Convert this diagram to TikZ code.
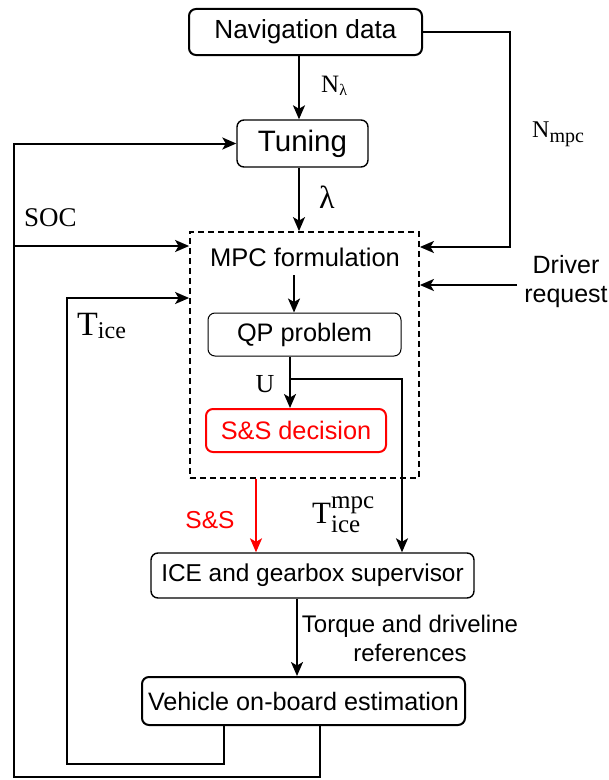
\documentclass[tikz,border=0pt]{standalone}
\usepackage{fontspec}
\setmainfont{Liberation Sans}
\newfontfamily\serif{Liberation Serif}
\usetikzlibrary{arrows.meta}
\newcommand\fsz[1]{\fontsize{#1bp}{#1bp}\selectfont}
\begin{document}
\begin{tikzpicture}[x=1bp,y=-1bp,
  box/.style={draw, rounded corners=7bp, line width=1.4bp, inner sep=0pt, font=\fsz{25.3}},
  arr/.style={-{Stealth[length=14bp,width=12bp,inset=3.5bp]}, line width=2bp},
  lab/.style={font=\serif\fsz{25}, inner sep=0pt}]
\useasboundingbox (0,0) rectangle (609,780);
% nodes
\node[box, line width=2bp, minimum width=233bp, minimum height=46bp, font=\fsz{26.2}] (nav) at (305.5,32) {Navigation data};
\node[box, minimum width=131bp, minimum height=47bp, font=\fsz{29.5}] (tun) at (302.5,143.5) {Tuning};
\node[draw, dash pattern=on 6bp off 4bp, line width=1.8bp, minimum width=229bp, minimum height=246bp, inner sep=0pt] (mpc) at (304.5,355) {};
\node[font=\fsz{25.5}, inner sep=0pt] (mpct) at (305,257) {MPC formulation};
\node[box, line width=1bp, minimum width=193bp, minimum height=43bp] (qp) at (304.5,334.5) {QP problem};
\node[box, draw=red, text=red, line width=2bp, minimum width=180bp, minimum height=43bp] (ss) at (296,430.5) {S\&S decision};
\node[box, minimum width=323bp, minimum height=45bp, font=\fsz{24.4}] (ice) at (312.5,575.5) {ICE and gearbox supervisor};
\node[box, line width=2bp, minimum width=323bp, minimum height=48bp, font=\fsz{25.2}] (veh) at (303.5,701) {Vehicle on-board estimation};
% helper coordinates
\coordinate (x299) at (299,0);
\coordinate (x294) at (294,0);
\coordinate (x290) at (290,0);
\coordinate (x256) at (256,0);
\coordinate (x297) at (297,0);
\coordinate (x320) at (320,0);
\coordinate (x224) at (224,0);
\coordinate (y275) at (0,275);
\coordinate (br) at (290,379);
\coordinate (bx) at (402,0);
\coordinate (nr) at (510,247);
\coordinate (dr) at (517,285);
\coordinate (lb) at (14,777);
\coordinate (soc) at (14,246);
\coordinate (tb) at (67,764);
\coordinate (tt) at (67,298);
% connectors
\draw[arr] (nav.south -| x299) -- (tun.north -| x299);
\draw[arr] (tun.south -| x299) -- (mpc.north -| x299);
\draw[arr] (x294 |- y275) -- (qp.north -| x294);
\draw[arr] (qp.south -| x290) -- (ss.north -| x290);
\draw[arr] (br) -| (ice.north -| bx);
\draw[arr, red] (mpc.south -| x256) -- (ice.north -| x256);
\draw[arr] (ice.south -| x297) -- (veh.north -| x297);
\draw[arr] (nav.east) -| (nr) -- (mpc.east |- nr);
\draw[arr] (dr) -- (mpc.east |- dr);
\draw[arr] (veh.south -| x320) |- (lb) |- (tun.west);
\draw[arr] (soc) -- (mpc.west |- soc);
\draw[arr] (veh.south -| x224) |- (tb) -- (tt) -- (mpc.west |- tt);
% labels
\node[lab, anchor=base west, font=\serif\fsz{25}] (nlam) at (321,92) {N\raisebox{-3bp}{\fsz{16}λ}};
\node[lab, font=\serif\fsz{32}] (lam) at (327,197) {λ};
\node[lab, anchor=base west, font=\serif\fsz{24}] (nmpc) at (532,137) {N\raisebox{-5bp}{\fsz{20}mpc}};
\node[lab, anchor=west, font=\serif\fsz{27}] (soclab) at (24,218) {SOC};
\node[lab, anchor=base west, font=\serif] (tice) at (77,335) {{\fsz{34}T}\raisebox{-3bp}{\fsz{24}ice}};
\node[lab, anchor=base, font=\serif\fsz{26}] (ulab) at (265,392) {U};
\node[lab, anchor=base west, font=\serif] (tmpc) at (312,523) {{\fsz{31}T}\rlap{\raisebox{-9bp}{\fsz{25}ice}}\raisebox{15bp}{\fsz{25}mpc}};
\node[lab, text=red, font=\fsz{24.5}] (sslab) at (210,520) {S\&S};
\node[lab, align=center, font=\fontsize{24bp}{29bp}\selectfont] (torq) at (410,638) {Torque and driveline\\references};
\node[lab, align=center, font=\fontsize{25bp}{29bp}\selectfont] (drv) at (566,282) {Driver\\request};
\end{tikzpicture}
\end{document}
